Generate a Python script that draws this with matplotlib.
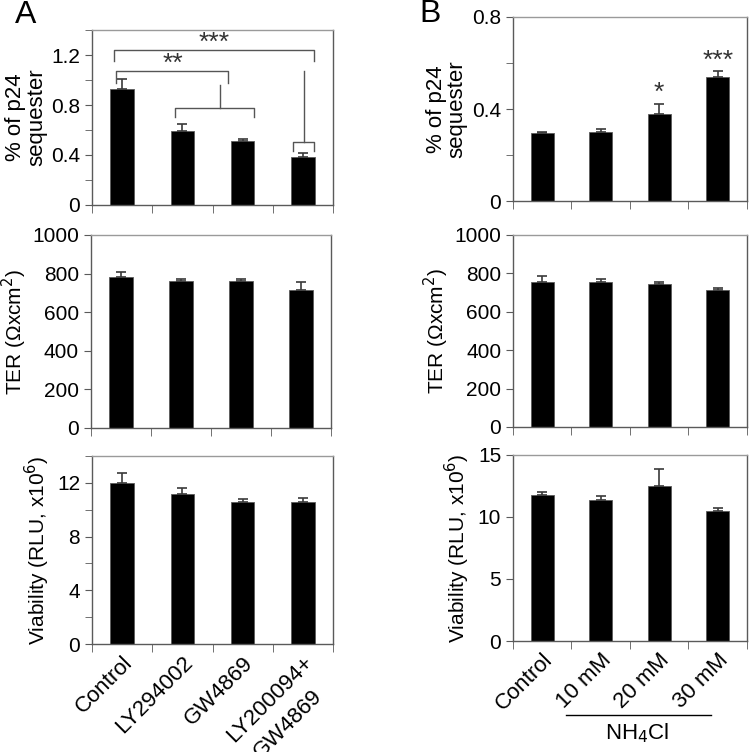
import numpy as np
import matplotlib
matplotlib.use("Agg")
import matplotlib.pyplot as plt
from matplotlib.ticker import MultipleLocator, FixedLocator

plt.rcParams["font.family"] = ["Liberation Sans", "DejaVu Sans"]

# ---- data ----
labels_a = ["Control", "LY294002", "GW4869", "LY200094+"]
label_a_line2 = "GW4869"   # second line of the last category label
labels_b = ["Control", "10 mM", "20 mM", "30 mM"]

p24_a = [0.93, 0.59, 0.51, 0.38]
p24_a_err = [0.08, 0.06, 0.015, 0.035]
ter_a = [781, 760, 760, 717]
ter_a_err = [29, 14, 14, 38]
via_a = [12.0, 11.2, 10.6, 10.6]
via_a_err = [0.7, 0.45, 0.2, 0.3]

p24_b = [0.294, 0.301, 0.380, 0.537]
p24_b_err = [0.007, 0.013, 0.042, 0.027]
ter_b = [753, 753, 744, 711]
ter_b_err = [35, 17, 9, 12]
via_b = [11.77, 11.37, 12.5, 10.5]
via_b_err = [0.27, 0.35, 1.34, 0.22]

stars_b = ["", "", "*", "***"]

EDGE = "#5a5a5a"
ERR = "#3a3a3a"
FS = 15
XFS = 16


def style_axes(ax, ylim, major, minor, labels=None):
    n = 4
    ax.set_xlim(-0.5, n - 0.5)
    ax.set_ylim(*ylim)
    ax.yaxis.set_major_locator(MultipleLocator(major))
    if minor:
        ax.yaxis.set_minor_locator(MultipleLocator(minor))
    ax.xaxis.set_major_locator(FixedLocator(np.arange(n)))
    ax.xaxis.set_minor_locator(FixedLocator(np.arange(n + 1) - 0.5))
    ax.tick_params(axis="x", which="major", length=0)
    ax.tick_params(axis="x", which="minor", length=6, direction="out", color=EDGE)
    ax.tick_params(axis="y", which="both", length=5, direction="out", color=EDGE,
                   labelsize=FS)
    for s in ax.spines.values():
        s.set_color(EDGE)
        s.set_linewidth(1.0)
    ax.spines["top"].set_color("#9a9a9a")
    if labels is None:
        ax.set_xticklabels([])
    else:
        ax.set_xticklabels(labels, rotation=45, ha="right", va="top",
                           rotation_mode="anchor", fontsize=XFS)
        ax.tick_params(axis="x", which="major", pad=6)


def bars(ax, vals, errs):
    x = np.arange(len(vals))
    ax.bar(x, vals, width=0.39, color="black", edgecolor=EDGE, linewidth=0.6)
    ax.errorbar(x, vals, yerr=[np.zeros(len(errs)), errs], fmt="none",
                ecolor=ERR, elinewidth=1.2, capsize=3.5, capthick=1.2)


fig = plt.figure(figsize=(7.51, 7.52), dpi=100)

# ---- panel A ----
ax1 = fig.add_axes([0.1225, 0.7274, 0.321, 0.2327])
bars(ax1, p24_a, p24_a_err)
style_axes(ax1, (0, 1.4), 0.4, 0.2)
ax1.set_yticks([0, 0.4, 0.8, 1.2])
ax1.set_yticklabels(["0", "0.4", "0.8", "1.2"], fontsize=FS)
ax1.set_ylabel("% of p24\nsequester", fontsize=16, linespacing=1.0, labelpad=3)

# significance brackets (x in bar units, y in data units)
brk = dict(color="#555555", lw=1.0, clip_on=False)
ax1.plot([-0.13, -0.13, 3.18, 3.18], [1.155, 1.24, 1.24, 1.155], **brk)
ax1.plot([-0.1, -0.1, 1.75, 1.75], [0.98, 1.07, 1.07, 0.98], **brk)
ax1.plot([1.62, 1.62], [0.78, 0.96], **brk)
ax1.plot([0.88, 0.88, 2.18, 2.18], [0.70, 0.78, 0.78, 0.70], **brk)
ax1.plot([3.02, 3.02], [0.50, 1.07], **brk)
ax1.plot([2.84, 2.84, 3.19, 3.19], [0.43, 0.50, 0.50, 0.43], **brk)
ax1.text(1.52, 1.2, "***", ha="center", va="bottom", fontsize=19, color="#333333")
ax1.text(0.85, 1.03, "**", ha="center", va="bottom", fontsize=19, color="#333333")

ax2 = fig.add_axes([0.121, 0.4309, 0.3197, 0.2566])
bars(ax2, ter_a, ter_a_err)
style_axes(ax2, (0, 1000), 200, None)
ax2.set_ylabel("TER (Ωxcm$^{2}$)", fontsize=FS, labelpad=2)

ax3 = fig.add_axes([0.1225, 0.1436, 0.321, 0.25])
bars(ax3, via_a, via_a_err)
style_axes(ax3, (0, 14), 4, 2, labels=labels_a)
ax3.set_ylabel("Viability (RLU, x10$^{6}$)", fontsize=FS, labelpad=4)
# second line of the last label, set below the first and centred on it
ax3.annotate(label_a_line2, xy=(len(labels_a) - 1, 0),
             xycoords=("data", "axes fraction"), textcoords="offset points",
             xytext=(6, -30), rotation=45, ha="right", va="top",
             rotation_mode="anchor", fontsize=XFS, annotation_clip=False)

# ---- panel B ----
bx1 = fig.add_axes([0.683, 0.7327, 0.3116, 0.2447])
bars(bx1, p24_b, p24_b_err)
style_axes(bx1, (0, 0.8), 0.4, 0.2)
bx1.set_yticks([0, 0.4, 0.8])
bx1.set_yticklabels(["0", "0.4", "0.8"], fontsize=FS)
bx1.set_ylabel("% of p24\nsequester", fontsize=16, linespacing=1.0, labelpad=3)
for i, s in enumerate(stars_b):
    if s:
        bx1.text(i, p24_b[i] + p24_b_err[i] - 0.005, s, ha="center", va="bottom",
                 fontsize=19, color="#333333")

bx2 = fig.add_axes([0.683, 0.4322, 0.3116, 0.2553])
bars(bx2, ter_b, ter_b_err)
style_axes(bx2, (0, 1000), 200, None)
bx2.set_ylabel("TER (Ωxcm$^{2}$)", fontsize=FS, labelpad=2)

bx3 = fig.add_axes([0.683, 0.1476, 0.3116, 0.2474])
bars(bx3, via_b, via_b_err)
style_axes(bx3, (0, 15), 5, None, labels=labels_b)
bx3.set_ylabel("Viability (RLU, x10$^{6}$)", fontsize=FS, labelpad=4)

# NH4Cl group line under the treated bars
fig.add_artist(plt.Line2D([566 / 751, 711 / 751], [1 - 715 / 752, 1 - 715 / 752],
                          color="black", lw=1.0))
fig.text(637 / 751, 1 - 733 / 752, "NH$_{4}$Cl", ha="center", va="center", fontsize=16)

# panel letters
fig.text(15 / 751, 1 - 15 / 752, "A", fontsize=23, ha="left", va="center")
fig.text(419 / 751, 1 - 14 / 752, "B", fontsize=23, ha="left", va="center")

fig.savefig("out.png", dpi=100)
